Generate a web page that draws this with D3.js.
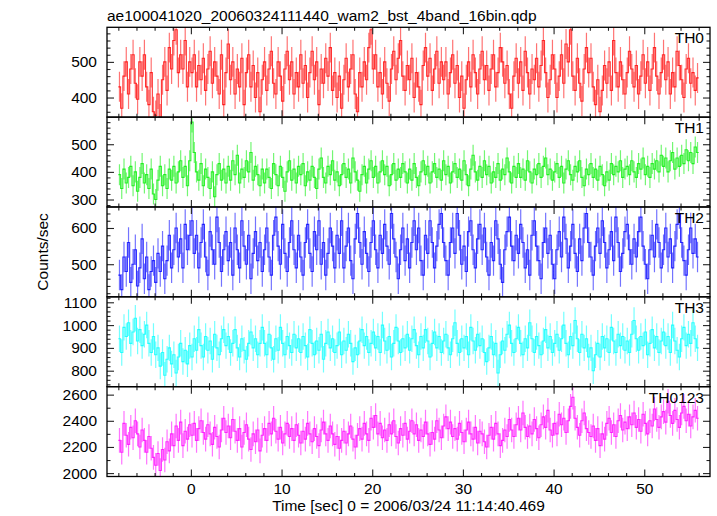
<!DOCTYPE html>
<html>
<head>
<meta charset="utf-8">
<script src="https://cdn.jsdelivr.net/npm/d3@7"></script>
<style>
  html, body { margin: 0; padding: 0; background: #ffffff; }
  svg { display: block; }
  text { font-family: "Liberation Sans", Arial, Helvetica, sans-serif; fill: #000; }
</style>
</head>
<body>
<svg id="chart" width="717" height="516"></svg>
<script>
// ---------------- data ----------------
const titleText = "ae100041020_20060324111440_wam2_bst_4band_16bin.qdp";
const xLabelText = "Time [sec] 0 = 2006/03/24 11:14:40.469";
const yLabelText = "Counts/sec";
const panelNames = ["TH0", "TH1", "TH2", "TH3", "TH0123"];
const panelColors = ["#ff0000", "#00ee00", "#0000ff", "#00ffff", "#ff00ff"];

const timeStart = -8;      // start of first bin (s)
const binWidth = 0.25;     // bin width (s)

const xTickValues = [0, 10, 20, 30, 40, 50];
const xDomain = [-9.25, 57.25];

const yDomains = [[345, 597], [273, 598], [410, 658], [730, 1124], [1974, 2661]];
const yMajorTicks = [[400, 500], [300, 400, 500], [500, 600], [800, 900, 1000, 1100], [2000, 2200, 2400, 2600]];
const yMinorStep = [20, 20, 20, 20, 100];

// typical half-length of the error bars per band
const errHalf = [42, 38, 42, 58, 94];

const th0 = [
  430, 370, 460, 500, 410, 480, 520, 440, 395, 500, 460, 520, 430, 380, 470, 360,
  350, 410, 340, 450, 500, 420, 540, 480, 560, 590, 470, 520, 480, 560, 430, 500,
  470, 520, 430, 490, 450, 510, 420, 480, 530, 440, 500, 460, 410, 520, 380, 470,
  550, 450, 500, 410, 480, 430, 510, 380, 470, 520, 430, 490, 400, 470, 360, 450,
  500, 420, 480, 530, 440, 410, 500, 460, 390, 480, 530, 450, 500, 410, 470, 430,
  520, 440, 490, 400, 470, 530, 450, 500, 380, 480, 440, 510, 460, 540, 420, 470,
  400, 460, 370, 450, 510, 430, 480, 520, 410, 360, 470, 430, 500, 450, 540, 590,
  480, 520, 430, 470, 410, 500, 440, 390, 480, 530, 450, 510, 560, 460, 420, 490,
  450, 510, 400, 470, 430, 380, 490, 540, 460, 510, 420, 480, 530, 440, 500, 450,
  500, 410, 470, 520, 440, 490, 400, 460, 370, 450, 500, 430, 520, 470, 410, 480,
  530, 450, 490, 420, 480, 520, 430, 470, 540, 500, 440, 490, 410, 370, 460, 510,
  440, 500, 420, 530, 470, 410, 480, 450, 510, 430, 490, 560, 470, 400, 450, 520,
  480, 400, 460, 520, 440, 550, 500, 590, 460, 420, 510, 440, 390, 480, 540, 470,
  510, 430, 380, 450, 360, 420, 490, 440, 500, 420, 560, 470, 430, 500, 450, 410,
  470, 530, 480, 430, 490, 410, 460, 520, 440, 500, 420, 480, 540, 460, 410, 470,
  520, 450, 500, 410, 470, 430, 530, 490, 450, 400, 480, 510, 440, 470, 420, 455
];

const th1 = [
  390, 340, 410, 360, 380, 420, 350, 400, 330, 380, 430, 360, 390, 340, 410, 320,
  300, 370, 420, 350, 390, 340, 410, 370, 420, 360, 400, 440, 380, 420, 350, 440,
  580, 470, 400, 370, 430, 350, 410, 380, 340, 400, 310, 390, 430, 370, 410, 360,
  420, 370, 440, 390, 460, 360, 410, 380, 440, 400, 470, 370, 420, 390, 350, 410,
  360, 410, 380, 340, 430, 390, 350, 420, 380, 330, 400, 440, 370, 410, 360, 420,
  390, 430, 350, 400, 370, 420, 380, 340, 410, 450, 380, 360, 420, 390, 440, 370,
  400, 350, 390, 430, 380, 410, 360, 450, 400, 370, 330, 390, 420, 360, 410, 440,
  380, 420, 360, 400, 440, 390, 420, 350, 390, 430, 370, 410, 380, 430, 400, 360,
  410, 370, 430, 380, 350, 400, 440, 390, 420, 360, 400, 430, 380, 410, 370, 440,
  390, 420, 360, 400, 430, 380, 410, 370, 440, 390, 350, 410, 460, 400, 370, 420,
  380, 440, 390, 420, 360, 400, 380, 430, 370, 410, 390, 450, 400, 360, 420, 380,
  430, 380, 410, 370, 440, 400, 360, 410, 390, 430, 380, 420, 450, 390, 410, 370,
  400, 430, 380, 420, 360, 410, 440, 390, 370, 420, 400, 440, 380, 350, 410, 390,
  430, 380, 410, 370, 420, 390, 350, 400, 370, 430, 390, 420, 400, 440, 380, 410,
  420, 390, 440, 400, 380, 430, 410, 450, 390, 420, 380, 430, 410, 440, 400, 460,
  420, 450, 400, 440, 470, 410, 450, 420, 460, 430, 480, 440, 470, 430, 490, 470
];

const th2 = [
  470, 430, 520, 480, 560, 450, 500, 540, 440, 490, 570, 460, 520, 430, 480, 510,
  450, 530, 480, 550, 460, 510, 580, 490, 540, 600, 520, 570, 490, 610, 540, 580,
  620, 530, 580, 490, 560, 610, 520, 470, 590, 540, 500, 630, 560, 480, 540, 590,
  510, 560, 470, 600, 540, 490, 620, 550, 500, 580, 460, 530, 590, 510, 560, 480,
  540, 600, 520, 470, 580, 630, 550, 500, 610, 530, 480, 560, 620, 540, 490, 580,
  520, 470, 560, 610, 530, 480, 590, 540, 620, 500, 560, 470, 530, 600, 550, 490,
  580, 530, 620, 490, 550, 600, 510, 460, 570, 640, 560, 500, 590, 530, 480, 560,
  620, 540, 490, 580, 530, 610, 550, 500, 640, 570, 520, 460, 540, 600, 510, 570,
  490, 560, 620, 540, 600, 510, 470, 580, 530, 620, 560, 490, 550, 610, 640, 560,
  510, 470, 560, 600, 530, 640, 580, 500, 550, 480, 590, 620, 540, 490, 570, 610,
  540, 600, 520, 470, 560, 510, 620, 570, 500, 450, 540, 590, 630, 550, 510, 580,
  530, 610, 560, 490, 540, 470, 580, 620, 550, 510, 460, 560, 600, 530, 580, 500,
  460, 540, 590, 520, 630, 570, 490, 550, 610, 530, 480, 570, 510, 600, 640, 560,
  520, 470, 550, 600, 530, 620, 560, 490, 540, 590, 510, 630, 560, 480, 530, 590,
  610, 540, 500, 570, 520, 590, 630, 550, 500, 460, 540, 580, 520, 610, 560, 490,
  540, 600, 520, 570, 490, 550, 610, 640, 560, 510, 470, 540, 600, 530, 570, 520
];

const th3 = [
  940, 880, 990, 950, 1010, 920, 970, 1030, 930, 980, 910, 960, 1000, 920, 880, 950,
  870, 900, 820, 880, 780, 850, 900, 830, 870, 790, 860, 920, 840, 890, 830, 910,
  860, 940, 890, 980, 910, 860, 950, 890, 930, 850, 960, 900, 870, 940, 980, 910,
  950, 880, 920, 980, 900, 860, 940, 890, 850, 920, 970, 900, 940, 870, 920, 990,
  920, 870, 960, 900, 850, 940, 890, 990, 920, 870, 950, 910, 880, 960, 900, 940,
  880, 950, 910, 860, 980, 920, 870, 930, 890, 960, 850, 920, 970, 900, 940, 880,
  910, 970, 870, 930, 890, 960, 920, 840, 900, 870, 930, 980, 910, 950, 880, 920,
  970, 900, 950, 880, 1000, 930, 890, 950, 860, 920, 990, 930, 880, 940, 900, 960,
  890, 940, 980, 910, 870, 950, 900, 980, 930, 860, 920, 970, 900, 950, 880, 930,
  960, 900, 870, 940, 1010, 920, 880, 940, 900, 950, 870, 990, 930, 890, 960, 910,
  940, 880, 840, 900, 950, 870, 920, 790, 870, 930, 890, 960, 1000, 920, 880, 940,
  990, 920, 870, 940, 900, 1010, 940, 880, 950, 910, 870, 930, 980, 900, 950, 880,
  920, 960, 890, 940, 1000, 920, 870, 950, 910, 1020, 940, 880, 960, 900, 940, 860,
  900, 800, 870, 920, 860, 950, 900, 940, 880, 990, 930, 880, 960, 910, 950, 890,
  930, 880, 960, 1020, 940, 890, 950, 910, 970, 870, 920, 980, 900, 950, 880, 930,
  970, 910, 950, 880, 1000, 930, 890, 860, 940, 990, 910, 960, 920, 1010, 940, 900
];

const th0123 = [
  2250, 2160, 2380, 2290, 2220, 2350, 2270, 2400, 2300, 2200, 2330, 2250, 2160, 2280, 2190, 2120,
  2060, 2150, 2020, 2180, 2100, 2240, 2170, 2300, 2210, 2360, 2250, 2390, 2210, 2320, 2260, 2370,
  2290, 2380, 2250, 2340, 2400, 2310, 2260, 2370, 2300, 2220, 2350, 2280, 2200, 2330, 2420, 2310,
  2360, 2270, 2410, 2320, 2250, 2340, 2200, 2310, 2370, 2260, 2180, 2300, 2240, 2330, 2170, 2290,
  2340, 2250, 2380, 2300, 2420, 2320, 2260, 2350, 2230, 2300, 2380, 2280, 2340, 2250, 2370, 2290,
  2230, 2320, 2260, 2380, 2300, 2240, 2340, 2280, 2210, 2330, 2390, 2300, 2250, 2360, 2300, 2220,
  2280, 2190, 2250, 2320, 2230, 2300, 2360, 2260, 2200, 2290, 2340, 2260, 2380, 2300, 2250, 2420,
  2350, 2440, 2300, 2380, 2270, 2330, 2250, 2370, 2300, 2400, 2280, 2230, 2340, 2290, 2380, 2260,
  2320, 2400, 2300, 2370, 2250, 2330, 2280, 2390, 2300, 2220, 2310, 2260, 2400, 2330, 2270, 2360,
  2430, 2340, 2390, 2280, 2340, 2260, 2380, 2310, 2240, 2330, 2390, 2300, 2260, 2350, 2230, 2320,
  2300, 2240, 2200, 2290, 2350, 2260, 2380, 2300, 2210, 2250, 2330, 2280, 2410, 2330, 2280, 2370,
  2420, 2330, 2460, 2350, 2280, 2360, 2300, 2410, 2340, 2270, 2370, 2430, 2350, 2480, 2330, 2290,
  2380, 2300, 2450, 2370, 2420, 2310, 2400, 2510, 2580, 2420, 2350, 2290, 2400, 2460, 2340, 2310,
  2280, 2360, 2250, 2340, 2210, 2300, 2260, 2380, 2420, 2310, 2370, 2280, 2400, 2440, 2330, 2390,
  2340, 2430, 2370, 2460, 2350, 2410, 2320, 2450, 2380, 2300, 2400, 2360, 2490, 2410, 2350, 2430,
  2470, 2390, 2550, 2440, 2380, 2480, 2410, 2350, 2460, 2510, 2400, 2450, 2360, 2430, 2480, 2420
];

const seriesValues = [th0, th1, th2, th3, th0123];

// ---------------- drawing ----------------
const W = 717, H = 516;
const plotLeft = 107, plotRight = 710, plotTop = 27.3, plotBottom = 476.5;
const nPanels = panelNames.length;
const panelH = (plotBottom - plotTop) / nPanels;
const FONT = 15.5;

const svg = d3.select("#chart");
svg.append("rect").attr("width", W).attr("height", H).attr("fill", "#fff");

const x = d3.scaleLinear().domain(xDomain).range([plotLeft, plotRight]);
const xMinor = d3.range(-8, 57, 2).filter(v => xTickValues.indexOf(v) < 0);

const defs = svg.append("defs");

seriesValues.forEach((vals, p) => {
  const top = plotTop + p * panelH;
  const bottom = top + panelH;
  const y = d3.scaleLinear().domain(yDomains[p]).range([bottom, top]);
  const g = svg.append("g");

  defs.append("clipPath").attr("id", "clip" + p)
    .append("rect").attr("x", plotLeft).attr("y", top)
    .attr("width", plotRight - plotLeft).attr("height", panelH);

  const data = vals.map((v, i) => ({ t: timeStart + binWidth * (i + 0.5), v: v }));
  const dg = g.append("g").attr("clip-path", "url(#clip" + p + ")");

  // error bars (vertical, lighter)
  dg.selectAll("line.err").data(data).enter().append("line")
    .attr("x1", d => x(d.t)).attr("x2", d => x(d.t))
    .attr("y1", d => y(d.v - errHalf[p])).attr("y2", d => y(d.v + errHalf[p]))
    .attr("stroke", panelColors[p]).attr("stroke-width", 1.2).attr("stroke-opacity", 0.55);

  // step line through bin values
  const stepPts = [];
  data.forEach(d => { stepPts.push([d.t - binWidth / 2, d.v]); stepPts.push([d.t + binWidth / 2, d.v]); });
  dg.append("path").datum(stepPts)
    .attr("d", d3.line().x(d => x(d[0])).y(d => y(d[1])))
    .attr("fill", "none").attr("stroke", panelColors[p]).attr("stroke-width", 1.1).attr("stroke-opacity", 0.8);

  // y axes (major + minor), left and right, ticks inward
  const yMinor = d3.range(Math.ceil(yDomains[p][0] / yMinorStep[p]) * yMinorStep[p], yDomains[p][1], yMinorStep[p])
    .filter(v => yMajorTicks[p].indexOf(v) < 0);

  g.append("g").attr("transform", `translate(${plotLeft},0)`)
    .call(d3.axisLeft(y).tickValues(yMajorTicks[p]).tickSize(-7).tickPadding(10).tickFormat(d3.format("d")));
  g.append("g").attr("transform", `translate(${plotLeft},0)`)
    .call(d3.axisLeft(y).tickValues(yMinor).tickSize(-3.5).tickFormat(""));
  g.append("g").attr("transform", `translate(${plotRight},0)`)
    .call(d3.axisRight(y).tickValues(yMajorTicks[p]).tickSize(-7).tickFormat(""));
  g.append("g").attr("transform", `translate(${plotRight},0)`)
    .call(d3.axisRight(y).tickValues(yMinor).tickSize(-3.5).tickFormat(""));

  // x axes top and bottom of each panel, ticks inward
  g.append("g").attr("transform", `translate(0,${top})`)
    .call(d3.axisTop(x).tickValues(xTickValues).tickSize(-7).tickFormat(""));
  g.append("g").attr("transform", `translate(0,${top})`)
    .call(d3.axisTop(x).tickValues(xMinor).tickSize(-3.5).tickFormat(""));
  g.append("g").attr("transform", `translate(0,${bottom})`)
    .call(d3.axisBottom(x).tickValues(xTickValues).tickSize(-7).tickPadding(6)
      .tickFormat(p === nPanels - 1 ? d3.format("d") : ""));
  g.append("g").attr("transform", `translate(0,${bottom})`)
    .call(d3.axisBottom(x).tickValues(xMinor).tickSize(-3.5).tickFormat(""));

  // frame
  g.append("rect").attr("x", plotLeft).attr("y", top)
    .attr("width", plotRight - plotLeft).attr("height", panelH)
    .attr("fill", "none").attr("stroke", "#000").attr("stroke-width", 1.3);

  // panel name
  g.append("text").attr("x", 704).attr("y", top + 16)
    .attr("text-anchor", "end").attr("font-size", FONT).text(panelNames[p]);
});

svg.selectAll(".domain").remove();
svg.selectAll(".tick line").attr("stroke", "#222").attr("stroke-width", 1.1);
svg.selectAll(".tick text").attr("font-size", FONT)
  .attr("font-family", '"Liberation Sans", Arial, sans-serif').attr("fill", "#000");

// titles
svg.append("text").attr("x", 107).attr("y", 21).attr("font-size", FONT).text(titleText);
svg.append("text").attr("x", (plotLeft + plotRight) / 2).attr("y", 511)
  .attr("text-anchor", "middle").attr("font-size", FONT).text(xLabelText);
svg.append("text").attr("transform", `translate(47.5,${(plotTop + plotBottom) / 2}) rotate(-90)`)
  .attr("text-anchor", "middle").attr("font-size", FONT).text(yLabelText);
</script>
</body>
</html>
